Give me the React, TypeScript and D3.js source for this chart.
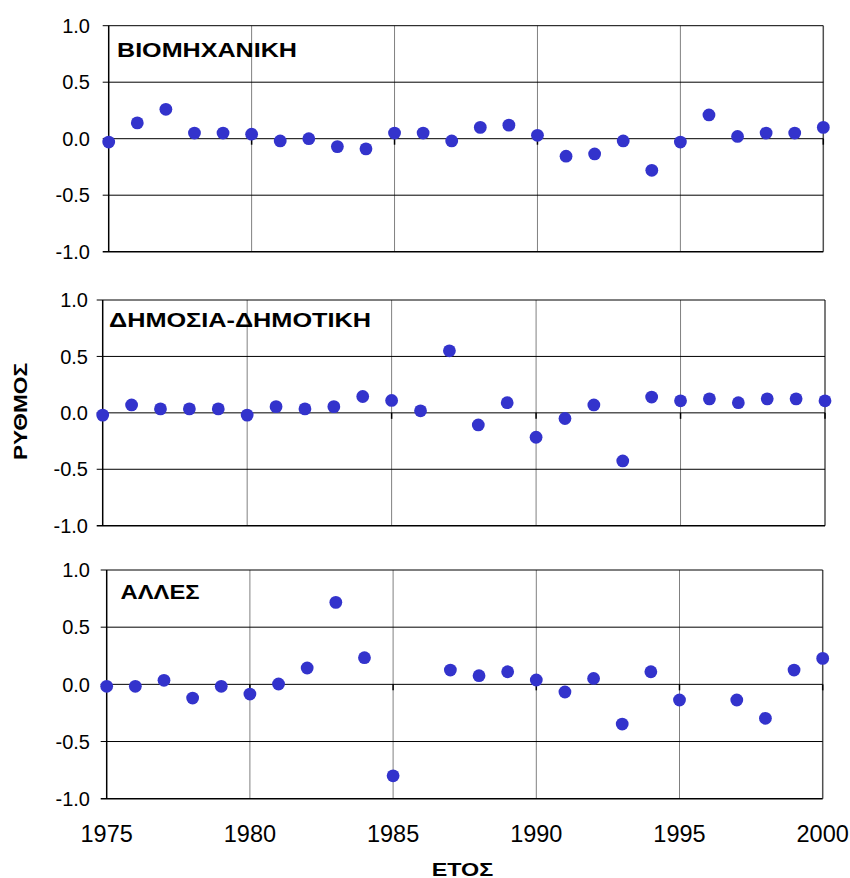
import * as d3 from 'd3';

// years on the x axis
const years = [
  1975, 1976, 1977, 1978, 1979, 1980, 1981, 1982, 1983, 1984, 1985, 1986, 1987,
  1988, 1989, 1990, 1991, 1992, 1993, 1994, 1995, 1996, 1997, 1998, 1999, 2000,
];

// rate per sector (null = no value that year)
const industrial = [
  -0.03, 0.14, 0.26, 0.05, 0.05, 0.04, -0.02, 0.0, -0.07, -0.09, 0.05, 0.05, -0.02,
  0.1, 0.12, 0.03, -0.155, -0.135, -0.02, -0.28, -0.03, 0.21, 0.02, 0.05, 0.05, 0.1,
];
const publicMunicipal = [
  -0.02, 0.07, 0.035, 0.035, 0.035, -0.02, 0.055, 0.035, 0.055, 0.145, 0.11, 0.018, 0.55,
  -0.107, 0.09, -0.216, -0.05, 0.07, -0.426, 0.14, 0.107, 0.124, 0.09, 0.124, 0.124, 0.107,
];
const others: (number | null)[] = [
  -0.017, -0.017, 0.035, -0.12, -0.017, -0.085, 0.003, 0.143, 0.717, 0.233, -0.8, null, 0.125,
  0.076, 0.11, 0.038, -0.067, 0.052, -0.347, 0.11, -0.137, null, -0.137, -0.297, 0.125, 0.227,
];

const panelTitles = ['ΒΙΟΜΗΧΑΝΙΚΗ', 'ΔΗΜΟΣΙΑ-ΔΗΜΟΤΙΚΗ', 'ΑΛΛΕΣ'];
const panelValues = [industrial, publicMunicipal, others];
const yTicks = [1, 0.5, 0, -0.5, -1];
const xTicks = [1975, 1980, 1985, 1990, 1995, 2000];

// each panel is its own little plot (like separate Excel charts stacked)
const layout = [
  { left: 108.7, right: 823.3, top: 25.7, bottom: 251.7, labelX: 90, titleX: 117, titleY: 57.3, titleW: 180 },
  { left: 102.7, right: 825, top: 300, bottom: 525.7, labelX: 88, titleX: 109, titleY: 327.3, titleW: 262 },
  { left: 106.7, right: 822.7, top: 570, bottom: 798.7, labelX: 90, titleX: 120.5, titleY: 599, titleW: 79 },
];

const FONT = "'Liberation Sans', Arial, Helvetica, sans-serif";
const DOT = '#3333cc';

function Panel({ idx }: { idx: number }) {
  const L = layout[idx];
  const values = panelValues[idx];
  const x = d3.scaleLinear().domain([1975, 2000]).range([L.left, L.right]);
  const y = d3.scaleLinear().domain([-1, 1]).range([L.bottom, L.top]);
  const isLast = idx === layout.length - 1;

  return (
    <g>
      {/* vertical grid */}
      {xTicks.slice(1, -1).map((t) => (
        <line key={'v' + t} x1={x(t)} x2={x(t)} y1={L.top} y2={L.bottom} stroke="#808080" strokeWidth={1} />
      ))}
      {/* right border */}
      <line x1={L.right} x2={L.right} y1={L.top} y2={L.bottom} stroke="#505050" strokeWidth={1.5} />
      {/* horizontal grid + outward ticks */}
      {yTicks.map((t) => (
        <line key={'h' + t} x1={L.left - 6} x2={L.right} y1={y(t)} y2={y(t)} stroke="#000" strokeWidth={t === -1 ? 1.5 : 1} />
      ))}
      {/* x axis ticks on the zero line */}
      {xTicks.slice(1).map((t) => (
        <line key={'xt' + t} x1={x(t)} x2={x(t)} y1={y(0)} y2={y(0) + 6} stroke="#000" strokeWidth={1.5} />
      ))}
      {/* y axis */}
      <line x1={L.left} x2={L.left} y1={L.top} y2={L.bottom} stroke="#000" strokeWidth={1.5} />
      {yTicks.map((t) => (
        <text
          key={'yl' + t}
          x={L.labelX}
          y={y(t)}
          dy="0.36em"
          textAnchor="end"
          fontSize={20}
          fontFamily={FONT}
          fill="#000"
        >
          {d3.format('.1f')(t).replace('−', '-')}
        </text>
      ))}
      <text
        x={L.titleX}
        y={L.titleY}
        fontSize={20}
        fontWeight="bold"
        textLength={L.titleW}
        lengthAdjust="spacingAndGlyphs"
        fontFamily={FONT}
        fill="#000"
      >
        {panelTitles[idx]}
      </text>
      {years.map((yr, i) =>
        values[i] == null ? null : (
          <circle key={yr} cx={x(yr)} cy={y(values[i] as number)} r={6.4} fill={DOT} />
        )
      )}
      {isLast &&
        xTicks.map((t) => (
          <text
            key={'xl' + t}
            x={x(t)}
            y={L.bottom + 43}
            textAnchor="middle"
            fontSize={23.5}
            fontFamily={FONT}
            fill="#000"
          >
            {t}
          </text>
        ))}
    </g>
  );
}

export default function App() {
  return (
    <svg
      width={850}
      height={878}
      viewBox="0 0 850 878"
      style={{ position: 'absolute', left: 0, top: 0, background: '#fff' }}
    >
      <rect width={850} height={878} fill="#fff" />
      {layout.map((_, i) => (
        <Panel key={i} idx={i} />
      ))}
      <text
        x={431.7}
        y={875.5}
        fontSize={18.6}
        fontWeight="bold"
        textLength={61.6}
        lengthAdjust="spacingAndGlyphs"
        fontFamily={FONT}
        fill="#000"
      >
        ΕΤΟΣ
      </text>
      <text
        transform="translate(26.7,460) rotate(-90)"
        fontSize={18.6}
        fontWeight="bold"
        textLength={97}
        lengthAdjust="spacingAndGlyphs"
        fontFamily={FONT}
        fill="#000"
      >
        ΡΥΘΜΟΣ
      </text>
    </svg>
  );
}
